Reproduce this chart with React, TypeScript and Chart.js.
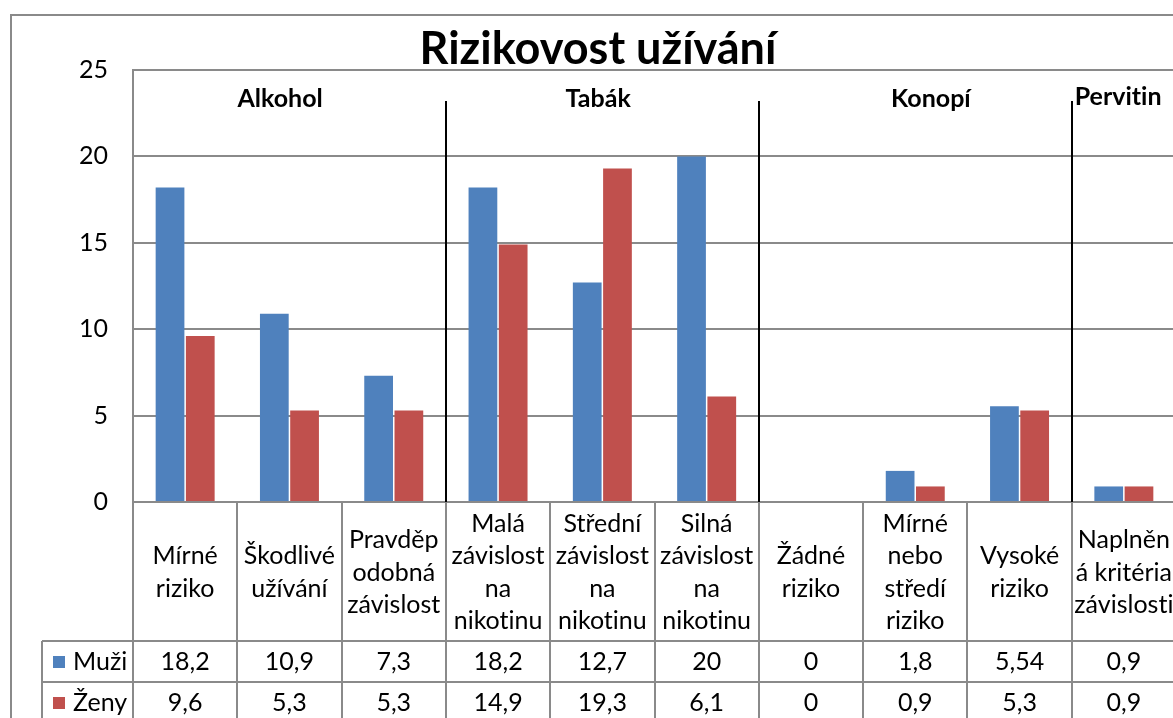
import React, { useEffect, useRef } from "react";
import { Chart, registerables } from "chart.js";

Chart.register(...registerables);

const TITLE = "Rizikovost užívání";
const CATEGORIES: string[][] = [
  ["Mírné", "riziko"],
  ["Škodlivé", "užívání"],
  ["Pravděp", "odobná", "závislost"],
  ["Malá", "závislost", "na", "nikotinu"],
  ["Střední", "závislost", "na", "nikotinu"],
  ["Silná", "závislost", "na", "nikotinu"],
  ["Žádné", "riziko"],
  ["Mírné", "nebo", "středí", "riziko"],
  ["Vysoké", "riziko"],
  ["Naplněn", "á kritéria", "závislosti"],
];
const SERIES_NAMES = ["Muži", "Ženy"];
const MUZI = [18.2, 10.9, 7.3, 18.2, 12.7, 20, 0, 1.8, 5.54, 0.9];
const ZENY = [9.6, 5.3, 5.3, 14.9, 19.3, 6.1, 0, 0.9, 5.3, 0.9];
const GROUPS = ["Alkohol", "Tabák", "Konopí", "Pervitin"];
const GROUP_BOUNDARIES = [2.5, 5.5, 8.5];
const Y_TICKS = [0, 5, 10, 15, 20, 25];

const COLORS = ["#4F81BD", "#C0504D"];
const GRID = "#8a8a8a";
const FONT = "Lato, 'Open Sans', sans-serif";

const fmt = (v: number) => String(v).replace(".", ",");

const overlayPlugin = {
  id: "overlay",
  afterDraw(chart: any) {
    const ctx: any = chart.ctx;
    const area = chart.chartArea;
    const xs = chart.scales.x;
    const n = CATEGORIES.length;
    const cw = (area.right - area.left) / n;
    const W = chart.width;
    const H = chart.height;
    ctx.save();
    try {
      ctx.textRendering = "optimizeSpeed";
    } catch (e) {}

    // outer border
    ctx.strokeStyle = GRID;
    ctx.lineWidth = 2;
    ctx.strokeRect(11, 15, W + 20, H + 20);

    // title
    ctx.fillStyle = "#000";
    ctx.font = `bold 45px ${FONT}`;
    ctx.textAlign = "center";
    ctx.textBaseline = "alphabetic";
    ctx.fillText(TITLE, 598, 64);

    // group separators
    ctx.strokeStyle = "#000";
    ctx.lineWidth = 2;
    GROUP_BOUNDARIES.forEach((b) => {
      const x = Math.round(xs.getPixelForValue(b));
      ctx.beginPath();
      ctx.moveTo(x, 101);
      ctx.lineTo(x, area.bottom);
      ctx.stroke();
    });

    // group labels
    ctx.font = `bold 25px ${FONT}`;
    const gpos = [0.91, 3.96, 7.15];
    ctx.textAlign = "center";
    GROUPS.slice(0, 3).forEach((g, i) => {
      ctx.fillText(g, xs.getPixelForValue(gpos[i]), 107);
    });
    ctx.textAlign = "left";
    ctx.fillText(GROUPS[3], xs.getPixelForValue(GROUP_BOUNDARIES[2]) + 3, 105);

    // data table
    const top = area.bottom;
    const headerBottom = 641;
    const rowH = 41;
    const tableLeft = 42;
    ctx.strokeStyle = GRID;
    ctx.lineWidth = 2;
    for (let i = 0; i <= n; i++) {
      const x = Math.round(area.left + i * cw);
      ctx.beginPath();
      ctx.moveTo(x, top);
      ctx.lineTo(x, H + 10);
      ctx.stroke();
    }
    ctx.beginPath();
    ctx.moveTo(tableLeft, headerBottom);
    ctx.lineTo(tableLeft, H + 10);
    ctx.stroke();
    for (let r = 0; r <= 2; r++) {
      const y = headerBottom + r * rowH;
      ctx.beginPath();
      ctx.moveTo(tableLeft, y);
      ctx.lineTo(W + 10, y);
      ctx.stroke();
    }

    ctx.fillStyle = "#000";
    ctx.font = `25px ${FONT}`;
    ctx.textAlign = "center";
    ctx.textBaseline = "middle";
    const hc = (top + headerBottom) / 2 + 1;
    CATEGORIES.forEach((lines, i) => {
      const cx = area.left + (i + 0.5) * cw;
      lines.forEach((ln, j) => {
        ctx.fillText(ln, cx, hc + (j - (lines.length - 1) / 2) * 32.5);
      });
    });

    const rows = [MUZI, ZENY];
    rows.forEach((vals, r) => {
      const cy = headerBottom + r * rowH + rowH / 2;
      ctx.fillStyle = COLORS[r];
      ctx.fillRect(53, Math.round(cy - 6), 12, 12);
      ctx.fillStyle = "#000";
      ctx.textAlign = "left";
      ctx.fillText(SERIES_NAMES[r], 73, cy);
      ctx.textAlign = "center";
      vals.forEach((v, i) => {
        ctx.fillText(fmt(v), area.left + (i + 0.5) * cw, cy);
      });
    });

    ctx.restore();
  },
};

export default function App() {
  const ref = useRef<HTMLCanvasElement | null>(null);
  useEffect(() => {
    if (!ref.current) return;
    const chart = new Chart(ref.current, {
      type: "bar",
      data: {
        labels: CATEGORIES.map((c) => c.join(" ")),
        datasets: [
          { label: SERIES_NAMES[0], data: MUZI, backgroundColor: COLORS[0], borderWidth: 0 },
          { label: SERIES_NAMES[1], data: ZENY, backgroundColor: COLORS[1], borderWidth: 0 },
        ],
      },
      options: {
        animation: false,
        responsive: false,
        devicePixelRatio: 1,
        layout: { padding: { top: 70, bottom: 216, left: 0, right: 24 } },
        datasets: { bar: { categoryPercentage: 0.58, barPercentage: 0.95 } },
        plugins: { legend: { display: false }, tooltip: { enabled: false }, title: { display: false } },
        scales: {
          x: { display: false, offset: true },
          y: {
            min: 0,
            max: 25,
            afterBuildTicks: (s: any) => {
              s.ticks = Y_TICKS.map((v) => ({ value: v }));
            },
            afterFit: (s: any) => {
              s.width = 133;
            },
            ticks: { padding: 25, color: "#000", font: { family: FONT, size: 25 } },
            grid: { color: GRID, lineWidth: 2, drawTicks: false },
            border: { color: GRID, width: 2 },
          },
        },
      },
      plugins: [overlayPlugin],
    });
    return () => chart.destroy();
  }, []);
  return (
    <div style={{ position: "fixed", left: 0, top: 0, width: 1173, height: 718, overflow: "hidden", background: "#fff" }}>
      <canvas ref={ref} width={1200} height={718} style={{ display: "block" }} />
    </div>
  );
}
